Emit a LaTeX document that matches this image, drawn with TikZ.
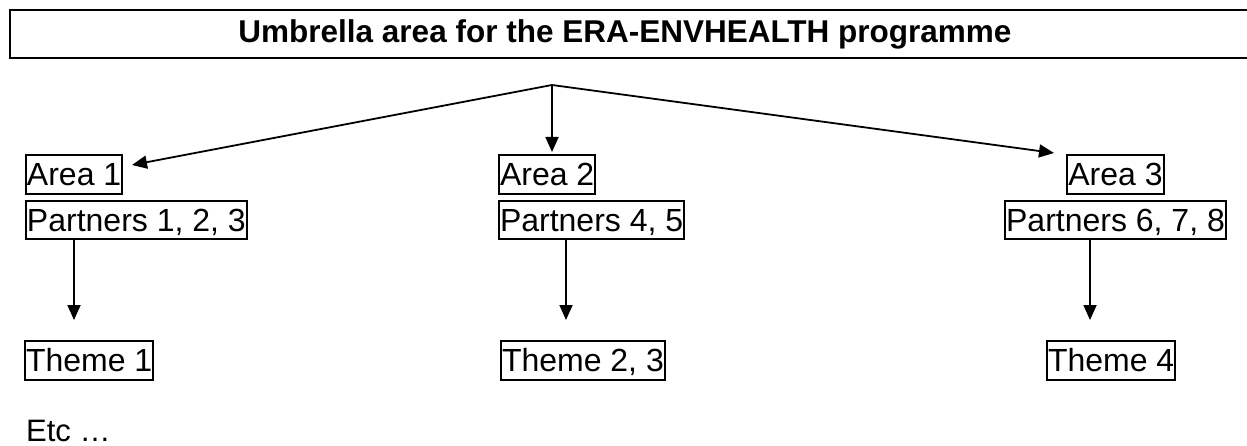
\documentclass[tikz,border=0pt]{standalone}
\usepackage{fontspec}
\setmainfont{Liberation Sans}
\usetikzlibrary{arrows.meta}
\begin{document}
\begin{tikzpicture}[x=1pt,y=-1pt,
  lbl/.style={draw, line width=2pt, font=\fontsize{32}{38}\selectfont, inner xsep=1pt, inner ysep=1.5pt,
    text height=29pt, text depth=6.8pt},
  arr/.style={line width=1.8pt, -{Triangle[length=15pt,width=13pt]}},
  ln/.style={line width=1.8pt}]
\useasboundingbox (0,0) rectangle (1247,446);
\clip (0,0) rectangle (1247,446);
\fill[white] (0,0) rectangle (1247,446);
% title
\draw[line width=2.2pt] (10,10) rectangle (1265,58);
\node[anchor=base, font=\fontsize{31.5}{38}\selectfont\bfseries, inner sep=0pt] (title) at (625,43) {Umbrella area for the ERA-ENVHEALTH programme};
% areas
\node[lbl, anchor=west] (a1) at (25,174.5) {Area 1};
\node[lbl, anchor=west] (p1) at (25,220) {Partners 1, 2, 3};
\node[lbl, anchor=west] (a2) at (498,174.5) {Area 2};
\node[lbl, anchor=west] (p2) at (498,220) {Partners 4, 5};
\node[lbl] (a3) at (1115.5,174.5) {Area 3};
\node[lbl] (p3) at (1115.5,220) {Partners 6, 7, 8};
% themes
\node[lbl, anchor=west] (t1) at (24,360.5) {Theme 1};
\node[lbl, anchor=west] (t2) at (500,360.5) {Theme 2, 3};
\node[lbl, anchor=west] (t3) at (1046,360.5) {Theme 4};
\node[anchor=base west, font=\fontsize{31}{38}\selectfont, inner sep=0pt] (etc) at (26,441) {Etc …};
% top arrows
\coordinate (apex) at (552,85);
\coordinate (e1) at (132,165);
\coordinate (e2) at (552,152);
\coordinate (e3) at (1054,153);
\draw[arr] (apex) -- (e1);
\draw[arr] (apex) -- (e2);
\draw[arr] (apex) -- (e3);
% lower arrows
\coordinate (d1) at (74,320);
\coordinate (d2) at (566,320);
\coordinate (d3) at (1090,320);
\draw[arr] (p1.south -| d1) -- (d1);
\draw[arr] (p2.south -| d2) -- (d2);
\draw[arr] (p3.south -| d3) -- (d3);
\end{tikzpicture}
\end{document}
